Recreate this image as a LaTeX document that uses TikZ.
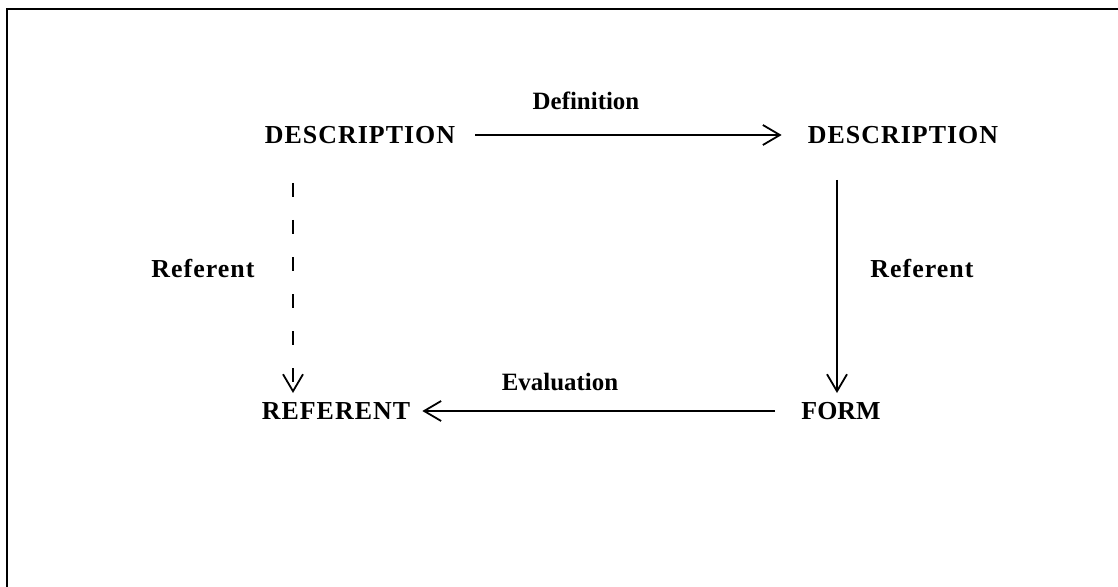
\documentclass[tikz,border=0pt]{standalone}
\usepackage{fontspec}
\setmainfont{Liberation Serif}
\newfontfamily\capsfont[LetterSpace=4]{Liberation Serif}
\newfontfamily\wideLfont[LetterSpace=4]{Liberation Serif}
\usetikzlibrary{arrows.meta}
\begin{document}
\begin{tikzpicture}[x=1bp,y=-1bp,
  lbl/.style={font=\fontsize{26}{30}\selectfont\bfseries, inner sep=0pt, text=black},
  arr/.style={line width=1.8bp, -{Straight Barb[length=17bp,width=20bp,line width=1.8bp]}},
  dashedarr/.style={arr, dash pattern=on 14bp off 23bp}]
  \useasboundingbox (0,0) rectangle (1118,587);
  % frame (only the upper and left edges fall inside the page)
  \draw[line width=2.5bp] (7,600) -- (7,9) -- (1130,9);

  % terms
  \node[lbl] (d1) at (360,135) {\capsfont DESCRIPTION};
  \node[lbl] (d2) at (903,135) {\capsfont DESCRIPTION};
  \node[lbl] (r)  at (336,411) {\capsfont REFERENT};
  \node[lbl] (f)  at (841,411) {FORM};

  % edge labels
  \node[lbl, font=\fontsize{25}{30}\selectfont\bfseries] (ldef)  at (586,101) {Definition};
  \node[lbl, font=\fontsize{25}{30}\selectfont\bfseries] (leval) at (560,382) {Evaluation};
  \node[lbl] (lrefl) at (203,269) {\wideLfont Referent};
  \node[lbl] (lrefr) at (922,269) {\wideLfont Referent};

  % end points of the vertical connectors
  \coordinate (ls) at (293,183);
  \coordinate (le) at (293,393);
  \coordinate (rs) at (837,180);
  \coordinate (re) at (837,393);

  % connectors
  \draw[arr, shorten <=20bp, shorten >=26bp] (d1.east) -- (d2.west);
  \draw[arr] (rs) -- (re);
  \draw[arr, shorten <=26bp, shorten >=12bp] (f.west) -- (r.east);
  \draw[dashedarr] (ls) -- (le);
\end{tikzpicture}
\end{document}
